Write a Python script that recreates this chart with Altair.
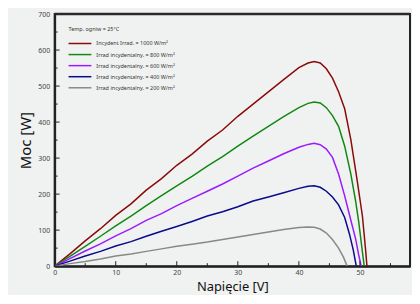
import altair as alt
import pandas as pd

# Irradiance series (voltage V, power W)
series_labels = [
    "Incydent Irrad. = 1000 W/m²",
    "Irrad incydentalny. = 800 W/m²",
    "Irrad incydentalny. = 600 W/m²",
    "Irrad incydentalny. = 400 W/m²",
    "Irrad incydentalny. = 200 W/m²",
]
series_colors = ["#8b0a0a", "#118811", "#9b1bff", "#0a0a8c", "#888888"]
legend_title = "Temp. ogniw = 25°C"

v_1000 = [0, 2.5, 5, 7.5, 10, 12.5, 15, 17.5, 20, 22.5, 25, 27.5, 30, 32.5, 35, 37.5, 40, 41.5, 42.5, 43.5, 44.5, 45.5, 46.5, 47.5, 48.5, 49.5, 50.4, 50.9, 51.15]
p_1000 = [0, 34, 70, 104, 141, 173, 211, 243, 280, 311, 347, 378, 416, 450, 484, 518, 551, 564, 568, 564, 548, 522, 484, 437, 352, 243, 140, 50, 0]

v_800 = [0, 2.5, 5, 7.5, 10, 12.5, 15, 17.5, 20, 22.5, 25, 27.5, 30, 32.5, 35, 37.5, 40, 41.5, 42.5, 43.5, 44.5, 45.5, 46.5, 47.5, 48.5, 49.3, 49.8, 50.4, 50.7]
p_800 = [0, 27, 55, 83, 112, 139, 168, 196, 223, 249, 278, 304, 333, 361, 388, 415, 440, 452, 456, 453, 440, 418, 388, 333, 256, 180, 123, 40, 0]

v_600 = [0, 2.5, 5, 7.5, 10, 12.5, 15, 17.5, 20, 22.5, 25, 27.5, 30, 32.5, 35, 37.5, 40, 41.5, 42.5, 43.5, 44.5, 45.5, 46.5, 47.5, 48.5, 49.3, 49.8, 50.2]
p_600 = [0, 21, 42, 62, 84, 104, 127, 146, 168, 188, 208, 228, 250, 272, 292, 312, 330, 338, 341, 337, 325, 302, 256, 195, 128, 75, 31, 0]

v_400 = [0, 2.5, 5, 7.5, 10, 12.5, 15, 17.5, 20, 22.5, 25, 27.5, 30, 32.5, 35, 37.5, 40, 41.5, 42.5, 43.5, 44.5, 45.5, 46.5, 47.5, 48.3, 48.9, 49.4]
p_400 = [0, 14, 28, 41, 56, 68, 83, 97, 110, 124, 139, 151, 165, 181, 192, 204, 216, 222, 223, 219, 208, 192, 170, 135, 88, 45, 0]

v_200 = [0, 2.5, 5, 7.5, 10, 12.5, 15, 17.5, 20, 22.5, 25, 27.5, 30, 32.5, 35, 37.5, 40, 41.5, 42.5, 43.5, 44.5, 45.5, 46.5, 47.3, 47.9]
p_200 = [0, 7, 13, 20, 28, 34, 41, 48, 55, 61, 67, 74, 81, 88, 95, 102, 107, 109, 108, 103, 92, 74, 50, 25, 0]

x_labels = [0, 10, 20, 30, 40, 50]
x_minor = [5, 15, 25, 35, 45, 55]
y_labels = [0, 100, 200, 300, 400, 500, 600, 700]
y_minor = [50, 150, 250, 350, 450, 550, 650]

rows = []
for lab, vs, ps in zip(series_labels,
                       [v_1000, v_800, v_600, v_400, v_200],
                       [p_1000, p_800, p_600, p_400, p_200]):
    for v, p in zip(vs, ps):
        rows.append({"series": lab, "V": v, "P": p})
df = pd.DataFrame(rows)
leg_df = pd.DataFrame({"series": series_labels})

W, H = 358, 254
xs = alt.Scale(domain=[0, 58.2], nice=False, zero=False)
ys = alt.Scale(domain=[0, 700], nice=False)
cs = alt.Scale(domain=series_labels, range=series_colors)
leg_y = alt.Scale(type="point", domain=series_labels, range=[29.7, 74.3], padding=0)

x_axis = alt.Axis(values=x_labels, ticks=False, grid=False, labelFontSize=7,
                  labelColor="#444", labelPadding=2, domainColor="#222",
                  domainWidth=2, titleFontSize=13, titleFontWeight="normal",
                  titleColor="#111", titlePadding=6, labelFlush=False,
                  labelOverlap=False)
y_axis = alt.Axis(values=y_labels, ticks=False, grid=False, labelFontSize=7,
                  labelColor="#444", labelPadding=5, domainColor="#222",
                  domainWidth=2, titleFontSize=15, titleFontWeight="normal",
                  titleColor="#111", titlePadding=4, labelFlush=False,
                  labelOverlap=False)
X_T = "Napięcie [V]"
Y_T = "Moc [W]"
TICK = "#222"

lines = alt.Chart(df).mark_line(strokeWidth=1.5, clip=True).encode(
    x=alt.X("V:Q", scale=xs, title=X_T, axis=x_axis),
    y=alt.Y("P:Q", scale=ys, title=Y_T, axis=y_axis),
    color=alt.Color("series:N", scale=cs, legend=None),
)

xt_major = alt.Chart(pd.DataFrame({"V": x_labels})).mark_rule(strokeWidth=1).encode(
    x=alt.X("V:Q", scale=xs, title=X_T, axis=x_axis),
    y=alt.value(H), y2=alt.value(H - 5), color=alt.value(TICK))
xt_minor = alt.Chart(pd.DataFrame({"V": x_minor})).mark_rule(strokeWidth=1).encode(
    x=alt.X("V:Q", scale=xs, title=X_T, axis=x_axis),
    y=alt.value(H), y2=alt.value(H - 3), color=alt.value(TICK))
yt_major = alt.Chart(pd.DataFrame({"P": y_labels})).mark_rule(strokeWidth=1).encode(
    y=alt.Y("P:Q", scale=ys, title=Y_T, axis=y_axis),
    x=alt.value(0), x2=alt.value(5), color=alt.value(TICK))
yt_minor = alt.Chart(pd.DataFrame({"P": y_minor})).mark_rule(strokeWidth=1).encode(
    y=alt.Y("P:Q", scale=ys, title=Y_T, axis=y_axis),
    x=alt.value(0), x2=alt.value(3), color=alt.value(TICK))

top_border = alt.Chart(pd.DataFrame({"P": [700]})).mark_rule(strokeWidth=2.5).encode(
    y=alt.Y("P:Q", scale=ys, title=Y_T, axis=y_axis),
    x=alt.value(0), x2=alt.value(W), color=alt.value("#2a2a2a"))

leg_lines = alt.Chart(leg_df).mark_rule(strokeWidth=1.5).encode(
    y=alt.Y("series:N", scale=leg_y, axis=None),
    x=alt.value(14), x2=alt.value(37),
    color=alt.Color("series:N", scale=cs, legend=None),
)
leg_text = alt.Chart(leg_df).mark_text(align="left", baseline="middle", fontSize=5.5,
                                        color="#333").encode(
    y=alt.Y("series:N", scale=leg_y, axis=None),
    x=alt.value(42),
    text="series:N",
)
leg_title = alt.Chart(leg_df.head(1)).mark_text(align="left", baseline="middle", fontSize=5.5,
                                                 color="#333").encode(
    x=alt.value(14), y=alt.value(15), text=alt.value(legend_title))

main = alt.layer(lines, xt_major, xt_minor, yt_major, yt_minor, top_border)
legend = alt.layer(leg_lines, leg_text, leg_title)

chart = alt.layer(main, legend).resolve_scale(y="independent").properties(
    width=W, height=H, background="#f0f2f1",
    padding={"left": 10, "top": 1, "right": 0, "bottom": 0},
).configure(font="Noto Sans").configure_view(stroke="#222", strokeWidth=2)

chart.save("out.html", embed_options={"renderer": "svg", "actions": False})
